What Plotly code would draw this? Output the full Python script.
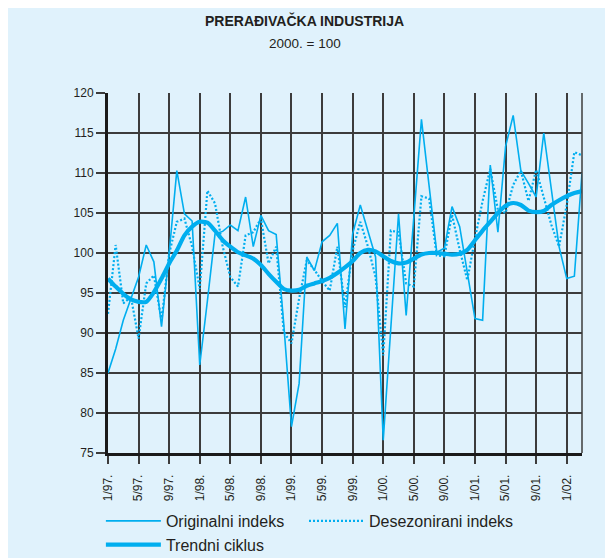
import plotly.graph_objects as go

# month index 0 = 1/97 ... 62 = 3/02
months = list(range(63))
tick_vals = list(range(0, 61, 4))
tick_labels = ["1/97.", "5/97.", "9/97.", "1/98.", "5/98.", "9/98.", "1/99.", "5/99.",
               "9/99.", "1/00.", "5/00.", "9/00.", "1/01.", "5/01.", "9/01.", "1/02."]

originalni = [85.0, 88.0, 91.6, 94.3, 97.0, 101.0, 98.9, 90.8, 100.0, 110.3, 104.9, 104.0,
              86.0, 94.0, 102.4, 102.7, 103.5, 102.8, 107.0, 100.8, 104.7, 102.8, 102.3, 91.0,
              78.3, 83.7, 99.5, 97.8, 101.4, 102.2, 103.7, 90.5, 102.4, 106.0, 102.8, 99.5,
              76.6, 91.0, 104.9, 92.2, 104.5, 116.7, 108.4, 100.1, 100.6, 105.8, 103.3, 97.6,
              91.8, 91.6, 111.0, 102.6, 113.3, 117.2, 110.3, 108.7, 107.0, 115.0, 107.8, 100.8,
              96.8, 97.1, 110.0]

desezonirani = [92.4, 101.0, 93.7, 94.5, 89.3, 96.2, 97.2, 91.6, 99.9, 103.9, 104.3, 100.8,
                95.5, 107.8, 106.2, 100.8, 97.0, 95.8, 102.2, 102.6, 104.3, 98.7, 100.8, 90.1,
                88.7, 94.3, 99.1, 97.9, 96.5, 95.3, 100.8, 93.2, 100.3, 103.9, 100.8, 97.0,
                87.2, 102.8, 102.6, 96.2, 95.8, 107.1, 106.8, 99.7, 99.6, 104.8, 100.4, 96.6,
                101.8, 106.5, 110.5, 105.4, 105.0, 108.5, 110.3, 106.5, 110.4, 106.8, 103.5, 100.8,
                106.0, 112.6, 112.2]

trendni = [96.8, 95.8, 94.9, 94.2, 93.9, 93.9, 95.1, 96.8, 98.7, 100.3, 102.2, 103.3,
           103.9, 103.8, 102.8, 101.6, 100.8, 100.1, 99.7, 99.3, 98.5, 97.4, 96.4, 95.5,
           95.3, 95.4, 95.9, 96.2, 96.5, 96.9, 97.5, 98.2, 99.0, 100.0, 100.4, 100.2,
           99.6, 99.0, 98.7, 98.8, 99.3, 99.8, 100.0, 100.0, 99.9, 99.8, 99.9, 100.4,
           101.6, 102.8, 103.9, 105.0, 105.9, 106.25, 106.0, 105.3, 105.1, 105.25, 106.0, 106.6,
           107.1, 107.5, 107.75]

cyan = "#00aeef"
bg = "#e0f2fc"
grid = "#3c3c3c"
font_family = "Liberation Sans, Arial, sans-serif"

fig = go.Figure()
fig.add_trace(go.Scatter(x=months, y=originalni, mode="lines", name="Originalni indeks",
                         line=dict(color=cyan, width=1.6), legend="legend"))
fig.add_trace(go.Scatter(x=months, y=desezonirani, mode="lines", name="Desezonirani indeks",
                         line=dict(color=cyan, width=2.2, dash="2px,2px"), legend="legend2"))
fig.add_trace(go.Scatter(x=months, y=trendni, mode="lines", name="Trendni ciklus",
                         line=dict(color=cyan, width=4.2, shape="spline", smoothing=0.6),
                         legend="legend"))

leg_common = dict(yanchor="top", xanchor="left", font=dict(size=16, color="#231f20"),
                  itemwidth=55, bgcolor="rgba(0,0,0,0)", tracegroupgap=0,
                  orientation="v")

# page body adds an 8px offset, so the figure is laid out 8px up/left
fig.update_layout(
    width=605, height=575,
    margin=dict(l=100, r=31, t=85, b=130),
    paper_bgcolor=bg, plot_bgcolor=bg,
    font=dict(family=font_family, color="#231f20", size=12),
    showlegend=True,
    legend=dict(x=-0.015, y=-0.1417, **leg_common),
    legend2=dict(x=0.4135, y=-0.1417, **leg_common),
    annotations=[
        dict(text="<b>PRERAĐIVAČKA INDUSTRIJA</b>", x=0.4156, xref="paper", xanchor="center",
             y=1 + 73 / 360, yref="paper", yanchor="middle", showarrow=False,
             font=dict(size=14, family=font_family)),
        dict(text="2000. = 100", x=0.4156, xref="paper", xanchor="center",
             y=1 + 50 / 360, yref="paper", yanchor="middle", showarrow=False,
             font=dict(size=13.5, family=font_family)),
    ],
    shapes=[dict(type="line", xref="paper", yref="paper", x0=1, x1=1, y0=0, y1=1,
                 line=dict(color=grid, width=1.5))],
)

fig.update_xaxes(range=[0, 62], tickmode="array", tickvals=tick_vals, ticktext=tick_labels,
                 tickangle=-90, ticks="outside", ticklen=8, tickwidth=1.5, tickcolor=grid,
                 ticklabelstandoff=6,
                 showgrid=True, gridcolor=grid, gridwidth=1.5, zeroline=False,
                 showline=True, linecolor="#1a1a1a", linewidth=2.5,
                 tickfont=dict(size=12))
fig.update_yaxes(range=[75, 120], dtick=5, tick0=75, ticks="outside", ticklen=9, tickwidth=1.5,
                 tickcolor=grid, showgrid=True, gridcolor=grid, gridwidth=1.5, zeroline=False,
                 showline=True, linecolor="#1a1a1a", linewidth=3, tickfont=dict(size=12))

fig.write_html("out.html")
